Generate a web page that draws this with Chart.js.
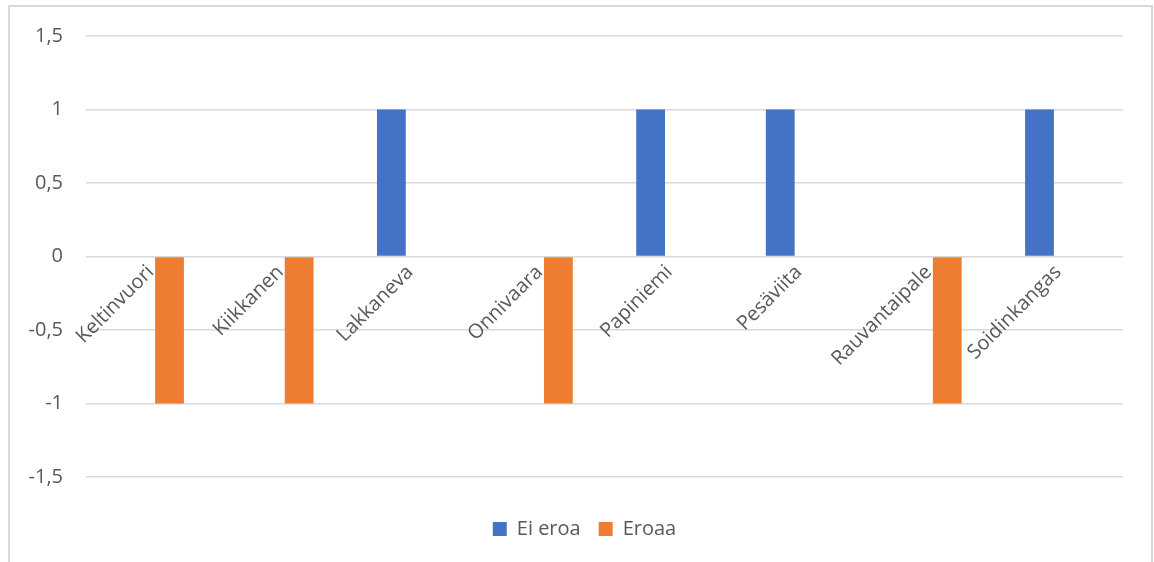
<!DOCTYPE html>
<html>
<head>
<meta charset="utf-8">
<script src="https://cdn.jsdelivr.net/npm/chart.js@4/dist/chart.umd.min.js"></script>
<style>
  html, body { margin: 0; padding: 0; background: #ffffff; }
  #wrap { position: relative; width: 1154px; height: 562px; overflow: hidden; }
  #frame { position: absolute; left: 8px; top: 5px; width: 1141px; height: 600px; border: 2px solid #d9d9d9; pointer-events: none; }
  canvas { position: absolute; left: 0; top: 0; }
</style>
</head>
<body>
<div id="wrap">
  <canvas id="c" width="1154" height="562"></canvas>
  <div id="frame"></div>
</div>
<script>
const categories = ["Keltinvuori", "Kiikkanen", "Lakkaneva", "Onnivaara", "Papiniemi", "Pesäviita", "Rauvantaipale", "Soidinkangas"];
const seriesNames = ["Ei eroa", "Eroaa"];
const eiEroa = [null, null, 1, null, 1, 1, null, 1];
const eroaa = [-1, -1, null, -1, null, null, -1, null];
const yTicks = [-1.5, -1, -0.5, 0, 0.5, 1, 1.5];

const FONT = "'Open Sans', 'Liberation Sans', sans-serif";
const TEXT = "#595959";

const legendShift = {
  id: 'legendShift',
  afterLayout(chart) {
    if (chart.legend) { chart.legend.left += 23; chart.legend.right += 23; }
  }
};

new Chart(document.getElementById('c'), {
  type: 'bar',
  data: {
    labels: categories,
    datasets: [
      { label: seriesNames[0], data: eiEroa, backgroundColor: '#4472C4', barPercentage: 0.77, categoryPercentage: 0.577 },
      { label: seriesNames[1], data: eroaa, backgroundColor: '#ED7D31', barPercentage: 0.77, categoryPercentage: 0.577 }
    ]
  },
  plugins: [legendShift],
  options: {
    responsive: false,
    animation: false,
    layout: { padding: { left: 0, right: 31, top: 36, bottom: 13 } },
    plugins: {
      legend: {
        position: 'bottom',
        title: { display: true, text: '', font: { size: 10 }, padding: 6 },
        labels: { boxWidth: 14, boxHeight: 14, padding: 18, color: TEXT, font: { family: FONT, size: 20 } }
      },
      tooltip: { enabled: false }
    },
    scales: {
      x: {
        position: { y: 0 },
        grid: { display: false, drawTicks: false },
        border: { display: false },
        ticks: { color: TEXT, font: { family: FONT, size: 20 }, minRotation: 45, maxRotation: 45, padding: 4, autoSkip: false }
      },
      y: {
        min: -1.5, max: 1.5,
        afterBuildTicks: (s) => { s.ticks = yTicks.map(v => ({ value: v })); },
        afterFit: (s) => { s.width = 86; },
        grid: { color: '#d9d9d9', lineWidth: 1.5, drawTicks: false },
        border: { display: false },
        ticks: {
          color: TEXT, padding: 23, font: { family: FONT, size: 20 },
          callback: (v) => String(v).replace('.', ',')
        }
      }
    }
  }
});
</script>
</body>
</html>
